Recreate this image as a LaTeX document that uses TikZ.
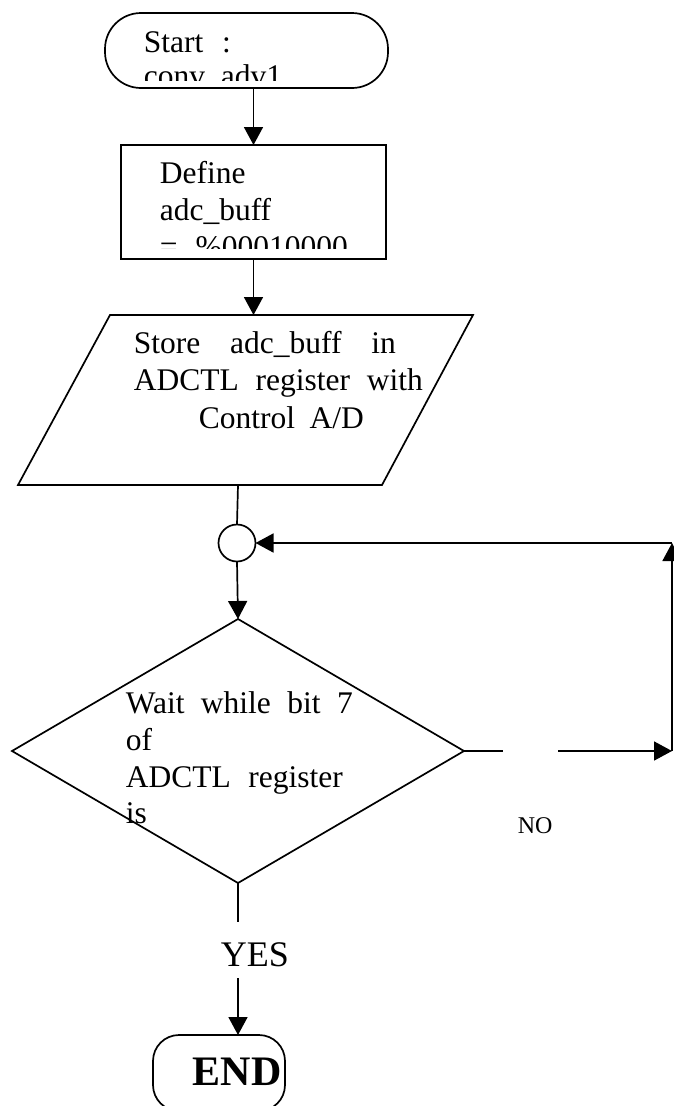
\documentclass[tikz,border=0pt]{standalone}
\usepackage{fontspec}
\setmainfont{Liberation Serif}
\usetikzlibrary{shapes.geometric,arrows.meta}

\begin{document}
\begin{tikzpicture}[x=1pt, y=-1pt, line width=1.7pt,
    chartshape/.style={draw, inner sep=0pt, outer sep=0pt},
    txt/.style={anchor=base west, inner sep=0pt, font=\fontsize{31.5}{37}\selectfont},
    arr/.style={-{Triangle[length=18pt,width=19pt]}}]
  \useasboundingbox (0,0) rectangle (674,1106);
  % shapes
  \node[chartshape, rounded corners=36pt, minimum width=283pt, minimum height=75pt] (start) at (246.5,50.5) {};
  \node[chartshape, minimum width=265pt, minimum height=114pt] (define) at (253.5,202) {};
  \draw (18,485) coordinate (storebl) -- (110,315) -- (473,315) -- (382,485) -- cycle;
  \coordinate (storetop) at (291.5,315);
  \node[chartshape, circle, minimum size=37pt] (join) at (237,543) {};
  \node[chartshape, diamond, minimum width=452pt, minimum height=264pt] (wait) at (238,751) {};
  \node[chartshape, rounded corners=26pt, minimum width=132pt, minimum height=76pt] (stop) at (219,1073) {};
  % texts
  \begin{scope}
    \clip (105,13) rectangle (388,80);
    \node[txt] (starta) at (143,52) {\makebox[87pt][s]{Start :}};
    \node[txt] (startb) at (143,86) {conv\_adv1};
  \end{scope}
  \begin{scope}
    \clip (121,145) rectangle (386,248);
    \node[txt] (defa) at (159,183) {Define};
    \node[txt] (defb) at (159,220) {adc\_buff};
    \node[txt] (defc) at (159,257) {\makebox[188pt][s]{= \%00010000}};
  \end{scope}
  \node[txt] (storea) at (133,353) {\makebox[262pt][s]{Store adc\_buff in}};
  \node[txt] (storeb) at (133,390) {\makebox[289pt][s]{ADCTL register with}};
  \node[txt] (storec) at (198,428) {\makebox[165pt][s]{Control A/D}};
  \node[txt] (waita) at (125,713) {\makebox[227pt][s]{Wait while bit 7}};
  \node[txt] (waitb) at (125,750) {of};
  \node[txt] (waitc) at (125,787) {\makebox[217pt][s]{ADCTL register}};
  \node[txt] (waitd) at (125,823) {is};
  \node[anchor=base west, inner sep=0pt, font=\fontsize{24}{28}\selectfont] (no) at (517,833) {NO};
  \node[anchor=base, inner sep=0pt, font=\fontsize{36}{40}\selectfont] (yes) at (255,966) {YES};
  \node[anchor=base west, inner sep=0pt, font=\fontsize{42}{46}\selectfont\bfseries] (endtxt) at (192,1085) {END};
  % connectors
  \coordinate (storebot) at (238,485);
  \coordinate (gapl) at (503,751);
  \coordinate (gapr) at (558,751);
  \coordinate (loopb) at (672,751);
  \coordinate (loopt) at (672,543);
  \coordinate (yesa) at (238,922);
  \coordinate (yesb) at (238,978);
  \draw[arr] (define.north |- start.south) -- (define.north);
  \draw[arr] (define.south) -- (define.south |- storetop);
  \draw (storebot) -- (join.north);
  \draw[arr] (join.south) -- (wait.north);
  \draw (wait.east) -- (gapl);
  \draw[arr] (gapr) -- (loopb);
  \draw[arr] (loopb) -- (loopt);
  \draw[arr] (loopt) -- (join.east);
  \draw (wait.south) -- (yesa);
  \draw[arr] (yesb) -- (yesb |- stop.north);
\end{tikzpicture}
\end{document}
